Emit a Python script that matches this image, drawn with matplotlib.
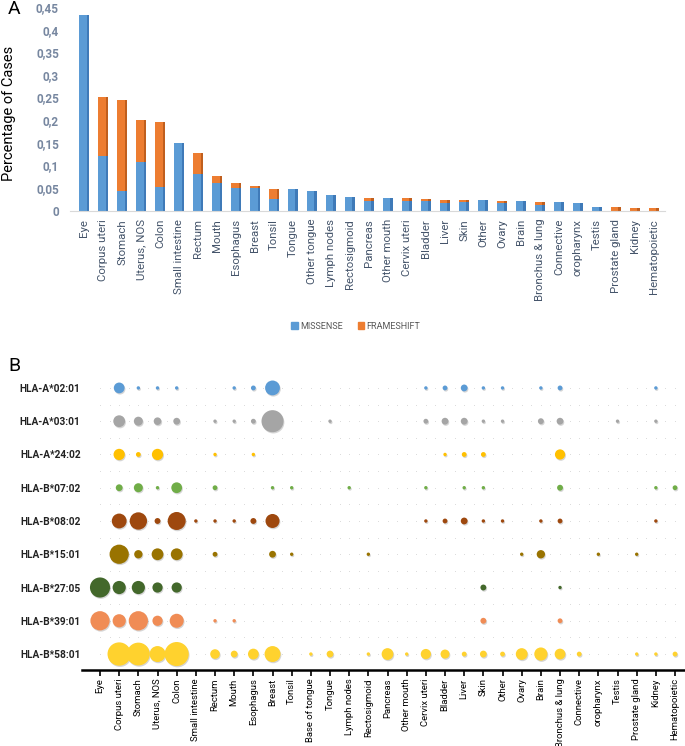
import matplotlib
matplotlib.use("Agg")
import matplotlib.pyplot as plt
import matplotlib.patheffects as pe
from matplotlib.patches import Patch
import numpy as np

plt.rcParams["font.family"] = ["Roboto", "DejaVu Sans"]

# Panel A data
sites_a = ["Eye", "Corpus uteri", "Stomach", "Uterus, NOS", "Colon", "Small intestine",
           "Rectum", "Mouth", "Esophagus", "Breast", "Tonsil", "Tongue", "Other tongue",
           "Lymph nodes", "Rectosigmoid", "Pancreas", "Other mouth", "Cervix uteri",
           "Bladder", "Liver", "Skin", "Other", "Ovary", "Brain", "Bronchus & lung",
           "Connective", "oropharynx", "Testis", "Prostate gland", "Kidney", "Hematopoietic"]
missense = [0.432, 0.120, 0.044, 0.107, 0.053, 0.150, 0.081, 0.060, 0.051, 0.051, 0.026,
            0.047, 0.044, 0.035, 0.030, 0.022, 0.027, 0.021, 0.021, 0.016, 0.020, 0.023,
            0.017, 0.021, 0.013, 0.018, 0.017, 0.009, 0.0, 0.0, 0.0]
frameshift = [0.0, 0.131, 0.201, 0.093, 0.143, 0.0, 0.046, 0.017, 0.010, 0.004, 0.022,
              0.0, 0.0, 0.0, 0.0, 0.006, 0.0, 0.007, 0.005, 0.008, 0.003, 0.0, 0.004,
              0.0, 0.006, 0.0, 0.0, 0.0, 0.007, 0.006, 0.005]
yticks_a = [0, 0.05, 0.1, 0.15, 0.2, 0.25, 0.3, 0.35, 0.4, 0.45]

# Panel B data (case counts per allele and site)
sites_b = ["Eye", "Corpus uteri", "Stomach", "Uterus, NOS", "Colon", "Small intestine",
           "Rectum", "Mouth", "Esophagus", "Breast", "Tonsil", "Base of tongue", "Tongue",
           "Lymph nodes", "Rectosigmoid", "Pancreas", "Other mouth", "Cervix uteri",
           "Bladder", "Liver", "Skin", "Other", "Ovary", "Brain", "Bronchus & lung",
           "Connective", "oropharynx", "Testis", "Prostate gland", "Kidney", "Hematopoietic"]
alleles = ["HLA-A*02:01", "HLA-A*03:01", "HLA-A*24:02", "HLA-B*07:02", "HLA-B*08:02",
           "HLA-B*15:01", "HLA-B*27:05", "HLA-B*39:01", "HLA-B*58:01"]
a0201 = {"Corpus uteri": 10, "Stomach": 1, "Uterus, NOS": 1, "Colon": 1, "Mouth": 1,
         "Esophagus": 2, "Breast": 19, "Cervix uteri": 1, "Bladder": 2, "Liver": 4,
         "Skin": 1, "Other": 1, "Brain": 1, "Bronchus & lung": 2, "Kidney": 1}
a0301 = {"Corpus uteri": 12, "Stomach": 7, "Uterus, NOS": 5, "Colon": 4, "Rectum": 1,
         "Mouth": 1, "Esophagus": 2, "Breast": 42, "Tongue": 1, "Cervix uteri": 2,
         "Bladder": 4, "Liver": 4, "Skin": 1, "Other": 1, "Brain": 3,
         "Bronchus & lung": 4, "Testis": 1, "Kidney": 1}
a2402 = {"Corpus uteri": 11, "Stomach": 2, "Uterus, NOS": 11, "Rectum": 1, "Esophagus": 1,
         "Bladder": 1, "Liver": 2, "Skin": 2, "Bronchus & lung": 9}
b0702 = {"Corpus uteri": 4, "Stomach": 7, "Uterus, NOS": 1, "Colon": 10, "Rectum": 2,
         "Breast": 1, "Tonsil": 1, "Lymph nodes": 1, "Cervix uteri": 1, "Liver": 1,
         "Skin": 1, "Bronchus & lung": 3, "Kidney": 1, "Hematopoietic": 2}
b0802 = {"Corpus uteri": 19, "Stomach": 26, "Uterus, NOS": 3, "Colon": 28,
         "Small intestine": 1, "Rectum": 1, "Mouth": 1, "Esophagus": 3, "Breast": 17,
         "Cervix uteri": 1, "Bladder": 2, "Liver": 4, "Skin": 1, "Other": 1, "Brain": 1,
         "Bronchus & lung": 2, "Kidney": 1}
b1501 = {"Corpus uteri": 32, "Stomach": 6, "Uterus, NOS": 12, "Colon": 12, "Rectum": 2,
         "Breast": 4, "Tonsil": 1, "Rectosigmoid": 1, "Ovary": 1, "Brain": 6,
         "oropharynx": 1, "Prostate gland": 1}
b2705 = {"Eye": 35, "Corpus uteri": 15, "Stomach": 15, "Uterus, NOS": 9, "Colon": 9,
         "Skin": 3, "Bronchus & lung": 1}
b3901 = {"Eye": 32, "Corpus uteri": 15, "Stomach": 32, "Uterus, NOS": 9, "Colon": 17,
         "Rectum": 1, "Mouth": 1, "Skin": 3, "Bronchus & lung": 2}
b5801 = {"Corpus uteri": 47, "Stomach": 45, "Uterus, NOS": 22, "Colon": 50, "Rectum": 8,
         "Mouth": 4, "Esophagus": 10, "Breast": 22, "Base of tongue": 1, "Tongue": 4,
         "Rectosigmoid": 1, "Pancreas": 12, "Other mouth": 1, "Cervix uteri": 9,
         "Bladder": 7, "Liver": 2, "Skin": 4, "Other": 2, "Ovary": 12, "Brain": 15,
         "Bronchus & lung": 10, "Connective": 2, "Prostate gland": 1, "Kidney": 1,
         "Hematopoietic": 2}
allele_counts = [a0201, a0301, a2402, b0702, b0802, b1501, b2705, b3901, b5801]
allele_colors = ["#5B9BD5", "#A5A5A5", "#FFC000", "#70AD47", "#9E480E",
                 "#997300", "#43682B", "#F08C55", "#FFD22E"]

fig = plt.figure(figsize=(6.85, 7.46), dpi=100)

# ---- Panel A: stacked bars ----
axA = fig.add_axes([70 / 685, 1 - 210.6 / 746, 595 / 685, 203.4 / 746])
x = np.arange(len(sites_a))
blue, blue_dark = "#5B9BD5", "#3F7AB8"
orange, orange_dark = "#ED7D31", "#C05F1E"
axA.bar(x - 0.06, missense, width=0.38, color=blue, zorder=2)
axA.bar(x + 0.195, missense, width=0.13, color=blue_dark, zorder=2)
axA.bar(x - 0.06, frameshift, bottom=missense, width=0.38, color=orange, zorder=2)
axA.bar(x + 0.195, frameshift, bottom=missense, width=0.13, color=orange_dark, zorder=2)
axA.set_xlim(-0.74, 30.58)
axA.set_ylim(0, 0.45)
axA.set_yticks(yticks_a)
axA.set_yticklabels([("%g" % v).replace(".", ",") for v in yticks_a],
                    color="#7787A0", fontsize=8.5, fontweight="bold")
axA.set_xticks(x)
axA.set_xticklabels(sites_a, rotation=90, fontsize=8.2, color="#44546A")
axA.tick_params(length=0, pad=6)
axA.tick_params(axis="y", pad=8)
for s in ["top", "right", "left"]:
    axA.spines[s].set_visible(False)
axA.spines["bottom"].set_color("#D9D9D9")
fig.text(2 / 685, 1 - 113 / 746, "Percentage of Cases", fontsize=10.5,
         rotation=90, ha="left", va="center")
fig.text(8 / 685, 1 - 9 / 746, "A", fontsize=14, va="center", ha="left")

fig.legend(handles=[Patch(color=blue), Patch(color=orange)],
           labels=["MISSENSE", "FRAMESHIFT"], loc="center",
           bbox_to_anchor=(356 / 685, 1 - 326 / 746), ncol=2, frameon=False,
           fontsize=6.5, handlelength=0.7, handleheight=0.7, handletextpad=0.3,
           columnspacing=1.6, labelcolor="#595959")

# ---- Panel B: bubble chart ----
axB = fig.add_axes([82 / 685, 1 - 670 / 746, 603 / 685, 315 / 746])
xb = np.arange(len(sites_b))
gx, gy = np.meshgrid(np.arange(0, len(sites_b) - 0.9, 0.5),
                     np.arange(0, len(alleles) - 0.9, 0.5))
axB.scatter(gx.ravel(), gy.ravel(), s=0.5, color="#DADADA", linewidths=0, zorder=1)
shadow = [pe.SimplePatchShadow(offset=(0.6, -0.9), alpha=0.3, shadow_rgbFace="#777777"),
          pe.Normal()]
for row, (counts, col) in enumerate(zip(allele_counts, allele_colors)):
    xs = [sites_b.index(k) for k in counts]
    vals = list(counts.values())
    sc = axB.scatter(xs, [row] * len(xs), s=[6 * v for v in vals], color=col,
                     linewidths=0, zorder=3, clip_on=False)
    sc.set_path_effects(shadow)
axB.set_xlim(-0.94, 30.52)
axB.set_ylim(8.48, -0.99)
axB.set_yticks(range(len(alleles)))
axB.set_yticklabels(alleles, fontsize=7.3, fontweight="bold", color="#222222")
axB.tick_params(axis="y", length=0, pad=1)
axB.set_xticks(xb)
axB.set_xticklabels(sites_b, rotation=90, fontsize=6.8, color="black")
axB.tick_params(axis="x", length=4, width=1.2, direction="out", pad=2)
for s in ["top", "right", "left"]:
    axB.spines[s].set_visible(False)
axB.spines["bottom"].set_linewidth(1.8)
fig.text(8 / 685, 1 - 366 / 746, "B", fontsize=14, va="center", ha="left")

fig.savefig("out.png", dpi=100)
